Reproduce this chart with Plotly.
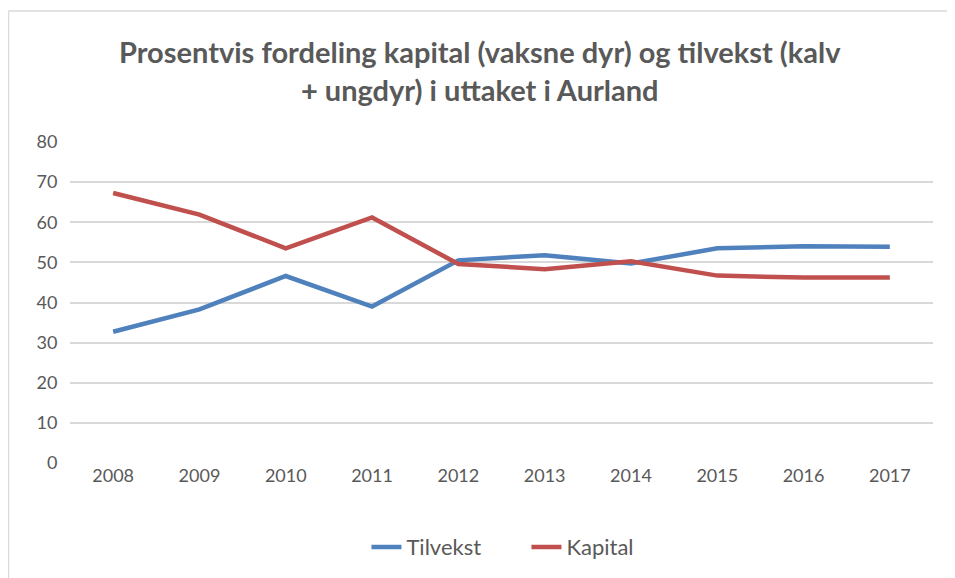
import plotly.graph_objs as go

years = ["2008", "2009", "2010", "2011", "2012", "2013", "2014", "2015", "2016", "2017"]
tilvekst = [32.7, 38.3, 46.6, 39.0, 50.5, 51.8, 49.7, 53.5, 54.0, 53.9]
kapital = [67.3, 61.9, 53.5, 61.2, 49.6, 48.3, 50.3, 46.7, 46.2, 46.2]

GREY = "#595959"
FONT = "Lato"

fig = go.Figure()
fig.add_trace(go.Scatter(x=years, y=tilvekst, mode="lines", name="Tilvekst",
                         line=dict(color="#4F81BD", width=4.5)))
fig.add_trace(go.Scatter(x=years, y=kapital, mode="lines", name="Kapital",
                         line=dict(color="#C0504D", width=4.5)))

fig.update_layout(
    width=955, height=578,
    paper_bgcolor="white", plot_bgcolor="white",
    margin=dict(l=62, r=30, t=134, b=123),
    font=dict(family=FONT, color=GREY, size=18),
    title=dict(text="<b>Prosentvis fordeling kapital (vaksne dyr) og tilvekst (kalv<br>+ ungdyr) i uttaket i Aurland</b>",
               x=0.494, xanchor="center", y=0.905, yanchor="top",
               font=dict(family=FONT, size=29, color=GREY)),
    xaxis=dict(type="category", range=[-0.5, 9.5], showgrid=False, showline=False,
               ticks="", tickfont=dict(size=18, color=GREY), zeroline=False),
    yaxis=dict(range=[0, 80], dtick=10, showgrid=True, gridcolor="#d9d9d9", gridwidth=1.5,
               zeroline=False, showline=False, ticks="outside", ticklen=8, tickcolor="white",
               tickfont=dict(size=18, color=GREY)),
    legend=dict(orientation="h", x=0.3435, xanchor="left", y=-0.262, yanchor="middle",
                entrywidth=115, entrywidthmode="pixels",
                font=dict(size=22, color=GREY)),
    showlegend=True,
)

# chart border (only left and top edges fall inside the picture)
border = dict(color="#d9d9d9", width=1.5)
fig.add_shape(type="line", xref="paper", yref="paper", x0=-0.0713, x1=-0.0713, y0=-0.4, y1=1.408,
              line=border, layer="below")
fig.add_shape(type="line", xref="paper", yref="paper", x0=-0.0713, x1=1.03, y0=1.408, y1=1.408,
              line=border, layer="below")

fig.write_html("out.html")
